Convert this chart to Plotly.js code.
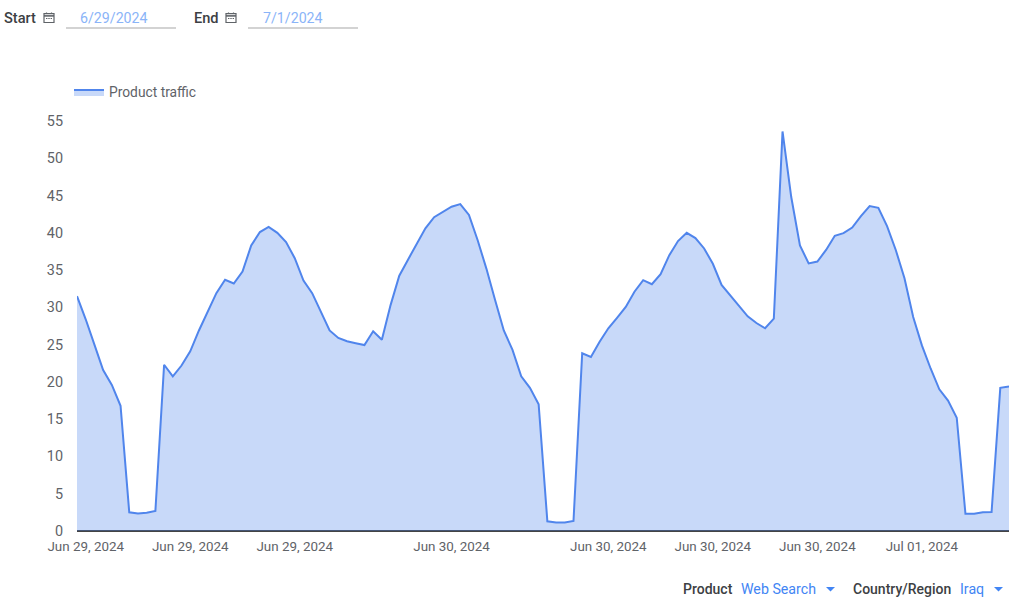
<!DOCTYPE html>
<html><head><meta charset="utf-8">
<script src="https://cdn.plot.ly/plotly-3.0.1.min.js"></script>
<style>html,body{margin:0;padding:0;background:#fff;overflow:hidden}#c{width:1024px;height:603px}</style>
</head><body><div id="c"></div>
<script>
const seriesName = "Product traffic";
const traffic = [31.5,28.4,25.0,21.6,19.6,16.8,2.5,2.35,2.45,2.7,22.3,20.75,22.2,24.1,26.9,29.4,31.9,33.7,33.2,34.8,
38.3,40.1,40.8,40.0,38.75,36.6,33.6,31.9,29.4,26.9,25.9,25.45,25.2,24.95,26.8,25.65,30.3,34.25,36.4,38.6,
40.6,42.1,42.8,43.5,43.85,42.4,39.0,35.2,31.0,26.9,24.3,20.75,19.2,17.0,1.3,1.15,1.15,1.35,23.85,23.35,
25.4,27.2,28.6,30.05,32.1,33.65,33.1,34.45,37.0,38.9,40.0,39.3,37.9,35.85,33.0,31.6,30.15,28.8,27.9,27.2,
28.5,53.6,44.8,38.3,35.9,36.15,37.7,39.6,39.95,40.7,42.25,43.6,43.35,40.9,37.7,33.9,28.7,24.9,21.8,19.0,
17.5,15.2,2.3,2.3,2.5,2.55,19.2,19.4];
const samples = traffic.map((_, i) => i);
const tickSamples = [1,13,25,43,61,73,85,97];
const tickLabels = ["Jun 29, 2024","Jun 29, 2024","Jun 29, 2024","Jun 30, 2024","Jun 30, 2024","Jun 30, 2024","Jun 30, 2024","Jul 01, 2024"];
const yTicks = [0,5,10,15,20,25,30,35,40,45,50,55];
const W=1024,H=603,L=77,R=1009,T=121,B=531;
const px=x=>(x-L)/(R-L), py=y=>(B-y)/(B-T);
const font="Roboto, sans-serif";
function lab(text,x,y,color,size,anchor,weight){
  return {text,xref:"paper",yref:"paper",x:px(x),y:py(y),xanchor:anchor||"left",yanchor:"middle",showarrow:false,
    font:{family:font,size:size||14,color,weight:weight||400}};
}
function line(x0,y0,x1,y1,color,w){
  return {type:"line",xref:"paper",yref:"paper",x0:px(x0),y0:py(y0),x1:px(x1),y1:py(y1),line:{color,width:w||1}};
}
function cal(x,y){
  const c="#5f6368";
  return [
    {type:"rect",xref:"paper",yref:"paper",x0:px(x),y0:py(y+10),x1:px(x+10),y1:py(y+1.2),line:{color:c,width:1.2},fillcolor:"#fff"},
    line(x,y+3.4,x+10,y+3.4,c,1.6),
    line(x+2.5,y,x+2.5,y+1.5,c,1.2),line(x+7.5,y,x+7.5,y+1.5,c,1.2),
    line(x+2,y+6,x+3.4,y+6,c,1.1),line(x+4.3,y+6,x+5.7,y+6,c,1.1),line(x+6.6,y+6,x+8,y+6,c,1.1)
  ];
}
const annotations=[
  lab("Start",2,17.5,"#3c4043",14.6,"left",500),
  lab("6/29/2024",77.5,17.5,"#8ab4f8",14.2),
  lab("End",192,17.5,"#3c4043",14.6,"left",500),
  lab("7/1/2024",260.5,17.5,"#8ab4f8",14.2),
  lab("Product",681,589,"#3c4043",14,"left",500),
  lab("Web Search",738.5,589,"#4285f4",14.2),
  lab("Country/Region",851,589,"#3c4043",14,"left",500),
  lab("Iraq",958,589,"#4285f4",14.2)
];
const tri=(x,y)=>({type:"path",xref:"paper",yref:"paper",
  path:`M ${px(x)} ${py(y)} L ${px(x+9)} ${py(y)} L ${px(x+4.5)} ${py(y+4.5)} Z`,fillcolor:"#4285f4",line:{width:0}});
const shapes=[...cal(44,12.5),...cal(226,12.5),
  line(66,28,176,28,"#c4c4c4",1.3),line(248,28,358,28,"#c4c4c4",1.3),
  tri(826,587),tri(994,587)];
Plotly.newPlot("c",[{
  x:samples,y:traffic,name:seriesName,type:"scatter",mode:"lines",fill:"tozeroy",
  line:{color:"#5085ec",width:2,shape:"linear"},fillcolor:"rgba(74,128,236,0.3)",hoverinfo:"x+y"
}],{
  width:W,height:H,margin:{l:L,r:W-R,t:T,b:H-B,pad:0},
  paper_bgcolor:"#fff",plot_bgcolor:"#fff",showlegend:true,
  legend:{orientation:"h",x:px(69),xanchor:"left",y:py(92),yanchor:"middle",bgcolor:"rgba(0,0,0,0)",
    font:{family:font,size:13.8,color:"#5f6368"}},
  xaxis:{range:[0,107],tickmode:"array",tickvals:tickSamples,ticktext:tickLabels,showgrid:false,zeroline:false,
    showline:false,ticks:"",ticklabelstandoff:6,tickfont:{family:font,size:13.4,color:"#5f6368"},fixedrange:true,automargin:false},
  yaxis:{range:[0,55],tickmode:"array",tickvals:yTicks,showgrid:false,zeroline:true,zerolinecolor:"#444",zerolinewidth:1.2,
    showline:false,ticks:"",ticklabelstandoff:13,tickfont:{family:font,size:14.4,color:"#5f6368"},fixedrange:true,automargin:false},
  annotations,shapes
},{displayModeBar:false,staticPlot:true});
</script></body></html>
